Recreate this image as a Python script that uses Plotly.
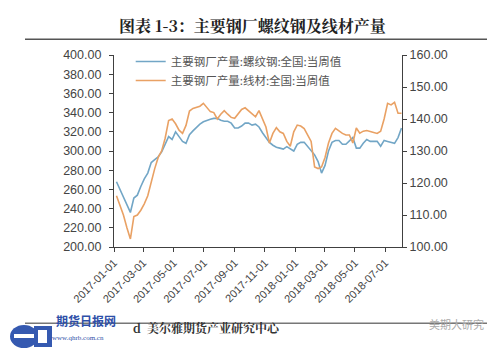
import pandas as pd
import plotly.graph_objects as go

dates = pd.date_range("2017-01-06", periods=83, freq="7D")

rebar = [268, 260, 252, 243, 236, 251, 254, 263, 271, 277,
         288, 291, 294, 299, 308, 315, 312, 320, 315, 310,
         308, 317, 321, 325, 328, 330.5, 332, 333, 334, 334,
         332, 331, 331, 329, 324, 324, 326, 329, 329, 327,
         328, 325, 319, 314, 309, 306, 304, 303, 302, 304.5,
         302, 300, 307, 309, 309, 305, 301, 296, 289, 277,
         285, 300, 309, 311, 311, 307, 307, 311, 314, 303,
         303, 308, 312, 310, 310, 310, 305, 311, 310, 309,
         308, 314, 324]

wire = [116, 113, 110, 106, 102.5, 109.5, 110, 111.5, 113.5, 116,
        120.5, 124.5, 128, 130, 134, 139.5, 140, 138.5, 136.5, 135.5,
        138, 142.5, 143.3, 143.6, 144, 144.9, 143.5, 142.3, 142, 140,
        141.5, 142.6, 141.5, 140.5, 140.2, 141.5, 143, 143.5, 142.6, 141.8,
        140.7, 142.6, 140, 137.5, 132.5, 135.5, 137.3, 136, 135.5, 133,
        131.5, 136, 138.1, 137.8, 137, 135, 133, 125, 124.5, 125,
        128, 132.5, 135.5, 137.1, 136.3, 135.5, 135, 135, 132.5, 137.2,
        135.6, 136.2, 136.4, 136, 135.8, 135.5, 136.2, 140, 144.9, 144.4,
        145.2, 141.8, 141.8]

x_ticks = ["2017-01-01", "2017-03-01", "2017-05-01", "2017-07-01", "2017-09-01",
           "2017-11-01", "2018-01-01", "2018-03-01", "2018-05-01", "2018-07-01"]
left_ticks = [200, 220, 240, 260, 280, 300, 320, 340, 360, 380, 400]
right_ticks = [100, 110, 120, 130, 140, 150, 160]

name_rebar = "主要钢厂产量:螺纹钢:全国:当周值"
name_wire = "主要钢厂产量:线材:全国:当周值"
title = "图表 1-3：主要钢厂螺纹钢及线材产量"

FONT = "Liberation Sans, Noto Sans CJK SC, sans-serif"
TICKC = "#444444"

fig = go.Figure()
fig.add_trace(go.Scatter(x=dates, y=rebar, name=name_rebar, mode="lines",
                         line=dict(color="#72a6c6", width=1.6)))
fig.add_trace(go.Scatter(x=dates, y=wire, name=name_wire, mode="lines", yaxis="y2",
                         line=dict(color="#e9a164", width=1.6)))

fig.update_layout(
    width=500, height=357,
    margin=dict(l=114, r=98, t=55, b=110),
    paper_bgcolor="white", plot_bgcolor="white",
    font=dict(family=FONT, size=12, color=TICKC),
    showlegend=True,
    legend=dict(x=0.058, y=1.042, xanchor="left", yanchor="top",
                bgcolor="rgba(0,0,0,0)",
                font=dict(size=11.5, color="#555555", family="Noto Sans CJK SC"),
                tracegroupgap=0, itemwidth=30),
    xaxis=dict(range=["2017-01-01", "2018-08-04"], tickvals=x_ticks, ticktext=x_ticks,
               tickangle=-45, showgrid=False, zeroline=False,
               showline=True, linecolor="#404040", linewidth=1.2,
               ticks="outside", ticklen=4, tickcolor="#404040",
               tickfont=dict(size=11, color=TICKC)),
    yaxis=dict(range=[200, 400], tickvals=left_ticks,
               ticktext=[f"{v:.2f}" for v in left_ticks],
               showgrid=False, zeroline=False, showline=True,
               linecolor="#404040", linewidth=1.2, ticks="outside", ticklen=4,
               tickcolor="#404040", tickfont=dict(size=12.5, color=TICKC),
               ticklabelstandoff=5),
    yaxis2=dict(range=[100, 160], tickvals=right_ticks,
                ticktext=[f"{v:.2f}" for v in right_ticks],
                overlaying="y", side="right", showgrid=False, zeroline=False,
                showline=True, linecolor="#404040", linewidth=1.2,
                ticks="outside", ticklen=4, tickcolor="#404040",
                tickfont=dict(size=12.5, color=TICKC)),
)

W, H = 500, 357
pw, ph = W - 114 - 98, H - 55 - 110
def px(x):
    return (x - 114) / pw
def py(y):
    return (H - 110 - y) / ph

# title
fig.add_annotation(text="<b>" + title + "</b>", xref="paper", yref="paper",
                   x=px(252), y=py(26), xanchor="center", yanchor="middle",
                   showarrow=False, font=dict(size=16, color="#222222",
                   family="Noto Serif CJK SC, Noto Sans CJK SC, serif"))
# separator rules, drawn as segments
for (a, b) in [(25, 114), (114, 402), (402, 487)]:
    fig.add_shape(type="rect", xref="paper", yref="paper", x0=px(a), x1=px(b),
                  y0=py(40), y1=py(38.5), fillcolor="#555555", line=dict(width=0),
                  layer="above")
    fig.add_shape(type="rect", xref="paper", yref="paper", x0=px(a), x1=px(b),
                  y0=py(324), y1=py(322.5), fillcolor="#777777", line=dict(width=0),
                  layer="above")

# footer logo (circle + D shape)
fig.add_shape(type="circle", xref="paper", yref="paper", x0=px(10), x1=px(38),
              y0=py(348), y1=py(325), fillcolor="#3559b0", line=dict(width=0),
              layer="above")
fig.add_shape(type="rect", xref="paper", yref="paper", x0=px(14), x1=px(36),
              y0=py(338), y1=py(334), fillcolor="white", line=dict(width=0),
              layer="above")
fig.add_shape(type="rect", xref="paper", yref="paper", x0=px(34), x1=px(52),
              y0=py(347), y1=py(326), fillcolor="#3559b0", line=dict(width=0),
              layer="above")
fig.add_shape(type="rect", xref="paper", yref="paper", x0=px(38), x1=px(47),
              y0=py(343), y1=py(330), fillcolor="white", line=dict(width=0),
              layer="above")
fig.add_annotation(text="<b>期货日报网</b>", xref="paper", yref="paper", x=px(54), y=py(331),
                   xanchor="left", showarrow=False,
                   font=dict(size=12, color="#2e4fa8", family="Noto Sans CJK SC"))
fig.add_annotation(text="www.qhrb.com.cn", xref="paper", yref="paper", x=px(50), y=py(344),
                   xanchor="left", showarrow=False,
                   font=dict(size=7, color="#2e4fa8", family="Liberation Serif"))
fig.add_annotation(text="<b>d  美尔雅期货产业研究中心</b>", xref="paper", yref="paper",
                   x=px(131), y=py(338), xanchor="left", showarrow=False,
                   font=dict(size=12, color="#333333",
                             family="Noto Serif CJK SC, Noto Sans CJK SC, serif"))
fig.add_annotation(text="美期大研究", xref="paper", yref="paper", x=px(486), y=py(334),
                   xanchor="right", showarrow=False,
                   font=dict(size=11, color="#aaaaaa", family="Noto Sans CJK SC"))

fig.write_html("out.html", config={"displayModeBar": False},
               post_script="document.body.style.margin='0';document.body.style.overflow='hidden';")
